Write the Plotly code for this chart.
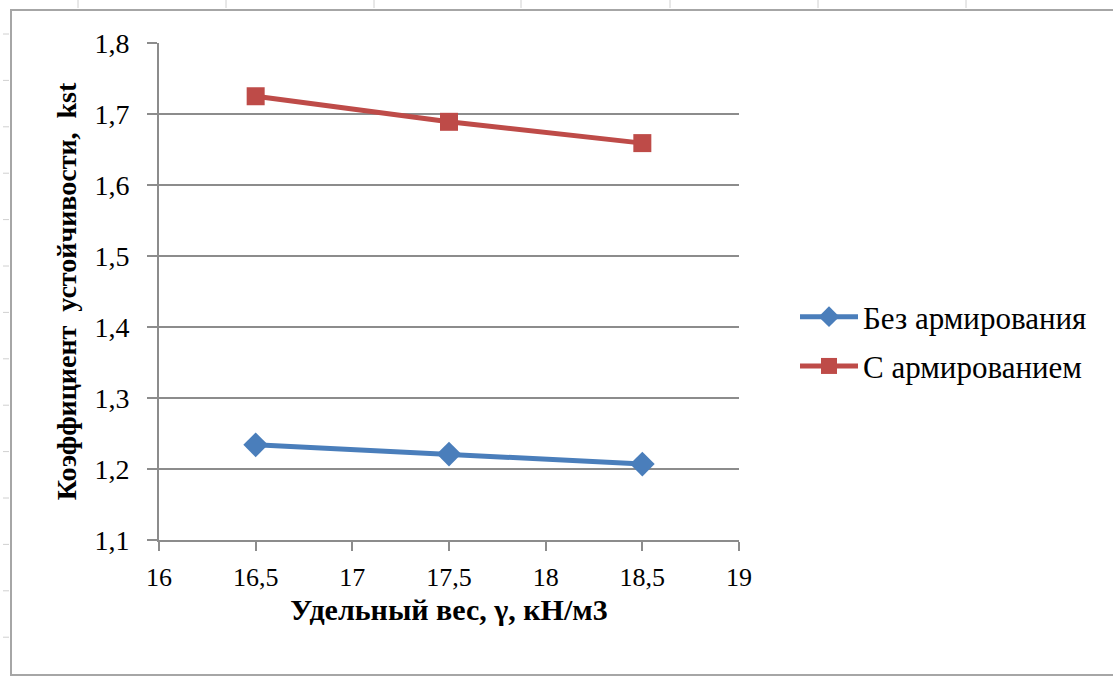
import plotly.graph_objects as go

# Unit weight values (x) and stability coefficient for each variant
unit_weight = [16.5, 17.5, 18.5]
k_plain = [1.234, 1.221, 1.207]
k_reinforced = [1.725, 1.689, 1.659]

series_names = ["Без армирования", "С армированием"]
x_ticks = [16, 16.5, 17, 17.5, 18, 18.5, 19]
x_tick_text = ["16", "16,5", "17", "17,5", "18", "18,5", "19"]
y_ticks = [1.1, 1.2, 1.3, 1.4, 1.5, 1.6, 1.7, 1.8]
y_tick_text = ["1,1", "1,2", "1,3", "1,4", "1,5", "1,6", "1,7", "1,8"]

W, H = 1113, 676
L, R, T, B = 159, 739, 43, 540  # plot area in pixels

BLUE = "#4A7EBB"
RED = "#BE4B48"
GRID = "#8C8C8C"
FONT = "Liberation Serif"

fig = go.Figure()
fig.add_trace(go.Scatter(
    x=unit_weight, y=k_plain, name=series_names[0], mode="lines+markers",
    legendgroup="a",
    line=dict(color=BLUE, width=5),
    marker=dict(symbol="diamond", size=19, color=BLUE),
))
fig.add_trace(go.Scatter(
    x=unit_weight, y=k_reinforced, name=series_names[1], mode="lines+markers",
    legendgroup="b",
    line=dict(color=RED, width=5),
    marker=dict(symbol="square", size=18, color=RED),
))


def px_to_paper_x(px):
    return (px - L) / (R - L)


def px_to_paper_y(py):
    return (B - py) / (B - T)


shapes = []
# chart frame
shapes.append(dict(type="rect", xref="paper", yref="paper",
                   x0=px_to_paper_x(11), x1=px_to_paper_x(1125),
                   y0=px_to_paper_y(675), y1=px_to_paper_y(10),
                   line=dict(color="#A6A6A6", width=2), layer="below"))
# sheet column marks along the top edge
for cx in [78, 226, 374, 521, 670, 818, 966]:
    shapes.append(dict(type="line", xref="paper", yref="paper",
                       x0=px_to_paper_x(cx), x1=px_to_paper_x(cx),
                       y0=px_to_paper_y(0), y1=px_to_paper_y(8),
                       line=dict(color="#D0D0D0", width=1)))
# sheet row marks along the left edge
for k in range(14):
    ry = 34 + 46.4 * k
    shapes.append(dict(type="line", xref="paper", yref="paper",
                       x0=px_to_paper_x(3), x1=px_to_paper_x(9),
                       y0=px_to_paper_y(ry), y1=px_to_paper_y(ry),
                       line=dict(color="#D0D0D0", width=1)))

fig.update_layout(
    width=W, height=H,
    margin=dict(l=L, r=W - R, t=T, b=H - B, pad=0),
    paper_bgcolor="white", plot_bgcolor="white",
    font=dict(family=FONT, size=22, color="#000000"),
    shapes=shapes,
    showlegend=True,
    legend=dict(
        x=px_to_paper_x(795), y=px_to_paper_y(290), xanchor="left", yanchor="top",
        font=dict(family=FONT, size=31, color="#000000"),
        bgcolor="rgba(0,0,0,0)", tracegroupgap=6, itemwidth=58,
    ),
    xaxis=dict(
        range=[16, 19], tickvals=x_ticks, ticktext=x_tick_text,
        showgrid=False, zeroline=False,
        showline=True, linecolor=GRID, linewidth=2,
        ticks="outside", ticklen=9, tickwidth=2, tickcolor=GRID,
        tickfont=dict(family=FONT, size=26, color="#000000"),
        ticklabelstandoff=4,
        title=dict(text="<b>Удельный вес, γ, кН/м3</b>",
                   font=dict(family=FONT, size=30), standoff=8),
    ),
    yaxis=dict(
        range=[1.1, 1.8], tickvals=y_ticks, ticktext=y_tick_text,
        showgrid=True, gridcolor=GRID, gridwidth=2, zeroline=False,
        showline=True, linecolor=GRID, linewidth=2,
        ticks="outside", ticklen=10, tickwidth=2, tickcolor=GRID,
        tickfont=dict(family=FONT, size=28, color="#000000"),
        ticklabelstandoff=12,
        title=dict(text="<b>Коэффициент  устойчивости,  kst</b>",
                   font=dict(family=FONT, size=28), standoff=10),
    ),
)

fig.write_html("out.html")
